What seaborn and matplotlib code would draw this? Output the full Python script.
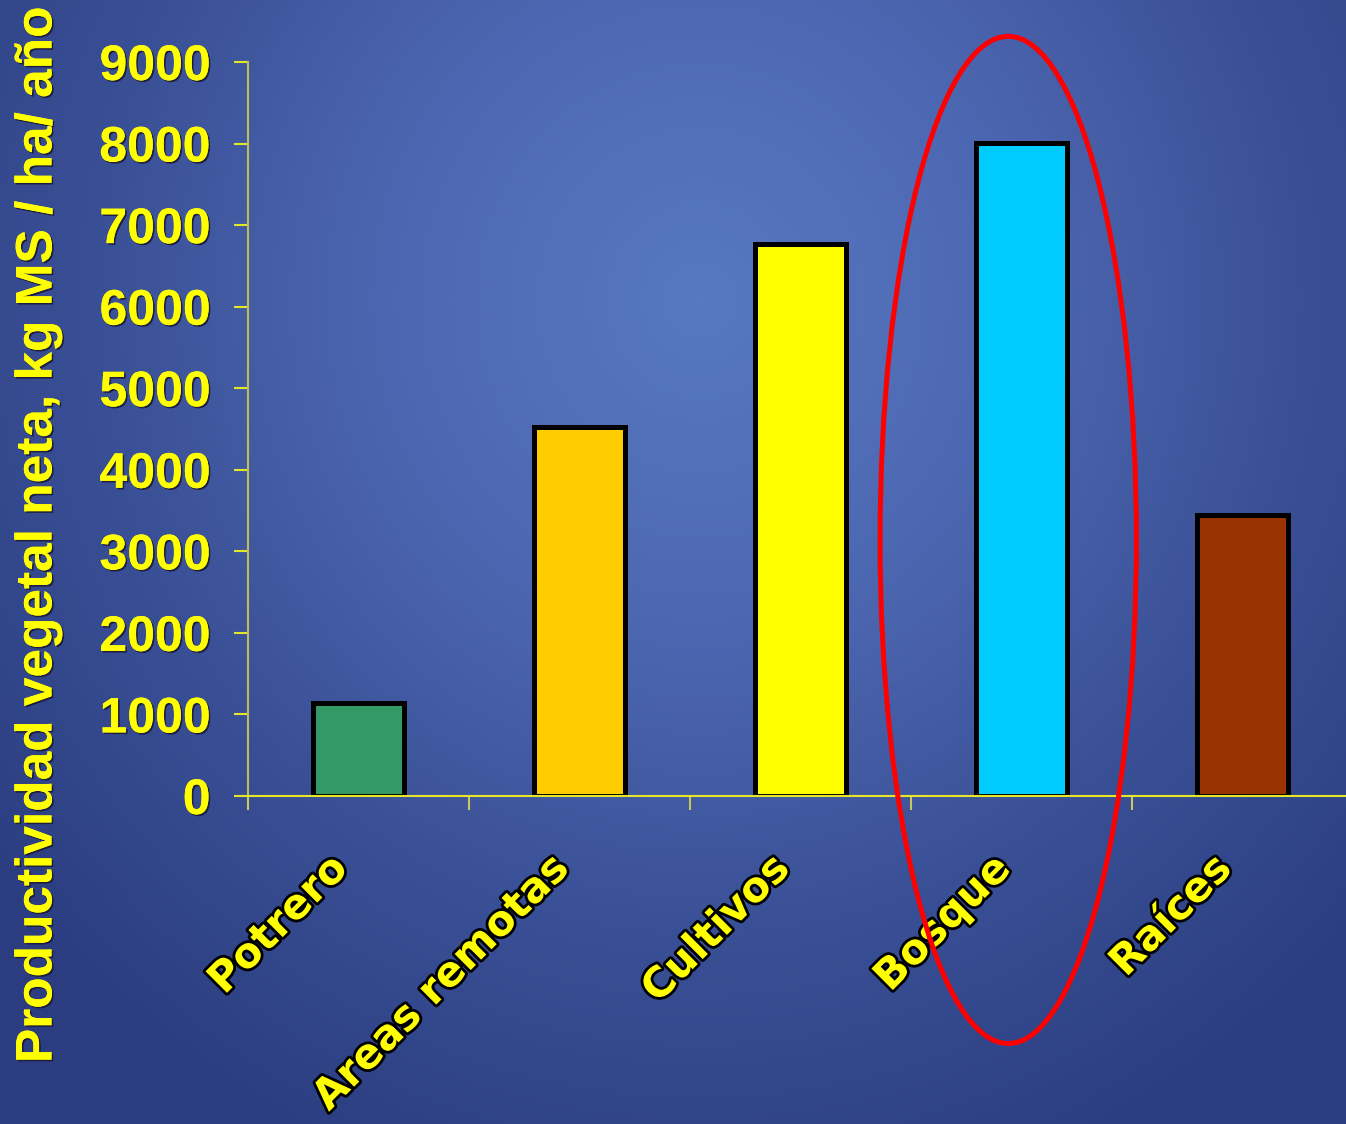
import numpy as np
import pandas as pd
import matplotlib
matplotlib.use("Agg")
import matplotlib.pyplot as plt
import matplotlib.patheffects as pe
from matplotlib.patches import Ellipse
from matplotlib.colors import LinearSegmentedColormap
import seaborn as sns

# Data
categorias = ["Potrero", "Areas remotas", "Cultivos", "Bosque", "Raíces"]
productividad = [1140, 4520, 6770, 8010, 3440]
colores = ["#339966", "#FFCC00", "#FFFF00", "#00CCFF", "#993300"]
yticks = [0, 1000, 2000, 3000, 4000, 5000, 6000, 7000, 8000, 9000]
ylabel = "Productividad vegetal neta, kg MS / ha/ año"
destacado = "Bosque"

sns.set_theme(style="white")
plt.rcParams["font.family"] = ["Liberation Sans", "DejaVu Sans"]

W, H = 1346, 1124
fig = plt.figure(figsize=(W / 100, H / 100), dpi=100)

# Radial blue background
bg = fig.add_axes([0, 0, 1, 1], zorder=-10)
yy, xx = np.mgrid[0:H, 0:W]
cx, cy = 700, 300
r = np.sqrt(((xx - cx) / 900.0) ** 2 + ((yy - cy) / 950.0) ** 2)
r = np.clip(r, 0, 1)
cmap = LinearSegmentedColormap.from_list(
    "fondo", ["#5878c2", "#4d68b2", "#3a5096", "#2b3d80"])
bg.imshow(r, cmap=cmap, aspect="auto", extent=[0, W, H, 0], vmin=0, vmax=1)
bg.axis("off")

left = 248 / W
bottom = 1 - 796 / H
top = 1 - 62 / H
right = 1353 / W
ax = fig.add_axes([left, bottom, right - left, top - bottom])
ax.patch.set_alpha(0)

df = pd.DataFrame({"categoria": categorias, "valor": productividad})
sns.barplot(data=df, x="categoria", y="valor", hue="categoria",
            palette=colores, order=categorias, hue_order=categorias,
            width=0.41, edgecolor="black", linewidth=3.6, saturation=1,
            legend=False, ax=ax)

ax.set_xlim(-0.5, len(categorias) - 0.5)
ax.set_ylim(0, 9000)
ax.set_yticks(yticks)

shadow = [pe.withSimplePatchShadow(offset=(1.2, -1.2), shadow_rgbFace="#1a1a3a", alpha=0.9)]
ax.set_yticklabels([str(v) for v in yticks], fontsize=36, fontweight="bold",
                   color="#FFFF00")
for t in ax.get_yticklabels():
    t.set_path_effects(shadow + [pe.Normal()])

# Category boundaries carry the x tick marks; names are placed separately
ax.set_xticks(np.arange(-0.5, len(categorias), 1.0))
ax.set_xticklabels([])
ax.tick_params(axis="x", direction="out", length=10, width=1.5,
               color="#c8c85a", bottom=True)
ax.tick_params(axis="y", direction="out", length=10, width=1.5,
               color="#e6e628", left=True, pad=17)
ax.set_xlabel("")
ax.set_ylabel("")

for s in ["top", "right"]:
    ax.spines[s].set_visible(False)
ax.spines["left"].set_color("#bdbd5c")
ax.spines["left"].set_linewidth(1.5)
ax.spines["bottom"].set_color("#e6e628")
ax.spines["bottom"].set_linewidth(1.5)

outline = [pe.Stroke(linewidth=4, foreground="black"), pe.Normal()]
for i, name in enumerate(categorias):
    ax.text(i - 0.08, -0.09, name, transform=ax.get_xaxis_transform(),
            rotation=45, rotation_mode="anchor", ha="right", va="center",
            fontsize=30, fontweight="bold", color="#FFFF00",
            family=["DejaVu Sans"], path_effects=outline, clip_on=False)

fig.text(38 / W, 1 - 535 / H, ylabel, rotation=90, ha="center", va="center",
         fontsize=37, fontweight="bold", color="#FFFF00",
         path_effects=shadow + [pe.Normal()])

# Highlight the forest bar
k = categorias.index(destacado)
ax.add_patch(Ellipse((k - 0.06, 3140), width=1.16, height=12350,
                     facecolor="none", edgecolor="#FF0000", linewidth=3.6,
                     clip_on=False, zorder=5))

fig.savefig("out.png", dpi=100)
